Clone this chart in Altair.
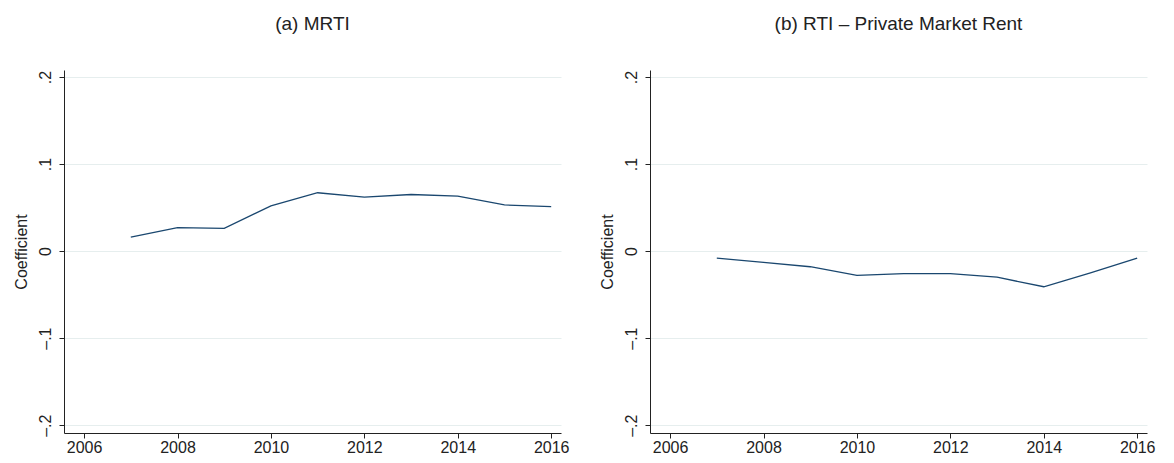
import pandas as pd
import altair as alt

years = list(range(2007, 2017))
mrti = [0.016, 0.027, 0.026, 0.052, 0.067, 0.062, 0.065, 0.063, 0.053, 0.051]
rti_private = [-0.008, -0.013, -0.018, -0.028, -0.026, -0.026, -0.030, -0.041, -0.025, -0.008]

font = "Liberation Sans"


def panel(values, title):
    df = pd.DataFrame({"year": years, "coef": values})
    return alt.Chart(df, title=alt.Title(title, fontSize=19, fontWeight="normal", font=font,
                                         color="#222", offset=36)).mark_line(
        color="#1a476f", strokeWidth=1.3
    ).encode(
        x=alt.X("year:Q", title=None,
                scale=alt.Scale(domain=[2005.57, 2016.21], nice=False, zero=False),
                axis=alt.Axis(values=list(range(2006, 2017, 2)), format="d", grid=False,
                              labelFontSize=16, labelColor="#222", tickColor="#222",
                              domainColor="#222", labelFont=font, tickSize=5, labelPadding=1)),
        y=alt.Y("coef:Q", title="Coefficient",
                scale=alt.Scale(domain=[-0.209, 0.208], nice=False, zero=False),
                axis=alt.Axis(values=[-0.2, -0.1, 0, 0.1, 0.2], labelAngle=-90,
                              labelAlign="center", labelBaseline="bottom", labelPadding=6,
                              labelExpr="datum.value == 0 ? '0' : (datum.value < 0 ? '\u2013' : '') + '.' + abs(round(datum.value * 10))",
                              gridColor="#e6eeee", labelFontSize=16, labelColor="#222",
                              tickColor="#222", domainColor="#222", labelFont=font,
                              titleFont=font, titleFontSize=16, titleFontWeight="normal",
                              titleColor="#222", titlePadding=8, tickSize=5)),
    ).properties(width=497, height=363)


chart = alt.hconcat(
    panel(mrti, "(a)  MRTI"),
    panel(rti_private, "(b)  RTI \u2013 Private Market Rent"),
    spacing=30,
).configure_view(stroke=None).properties(background="white", padding={"left": 5, "top": 7, "right": 5, "bottom": 5})

chart.save("out.html", embed_options={"renderer": "svg", "actions": False})
